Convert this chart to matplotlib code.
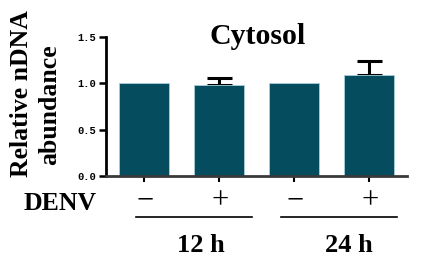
import matplotlib
matplotlib.use("Agg")
import matplotlib.pyplot as plt

categories = ["12h -", "12h +", "24h -", "24h +"]
values = [1.0, 0.985, 1.0, 1.09]
errors = [0.0, 0.07, 0.0, 0.15]
denv_signs = ["\u2212", "+", "\u2212", "+"]
time_labels = ["12 h", "24 h"]
yticks = [0.0, 0.5, 1.0, 1.5]
ytick_labels = ["0.0", "0.5", "1.0", "1.5"]

W, H = 423, 263
AX_B, AX_T = 175.7, 37.3
AX_H = AX_B - AX_T
fig = plt.figure(figsize=(W / 100, H / 100), dpi=100)
ax = fig.add_axes([106 / W, 1 - AX_B / H, (407 - 106) / W, AX_H / H])

serif = "Liberation Serif"
x = list(range(len(categories)))
ax.bar(x, values, width=0.667, color="#054c5e", edgecolor="#a8d0dc", linewidth=0.6, zorder=2)
for xi, v, e in zip(x, values, errors):
    if e > 0:
        ax.errorbar([xi], [v], yerr=[[0], [e]], fmt="none", ecolor="black",
                    elinewidth=2.2, capsize=9, capthick=2.2, zorder=1)

ax.set_xlim(-0.507, 3.507)
ax.set_ylim(0, 1.5)
ax.set_yticks(yticks)
ax.set_yticklabels(ytick_labels, fontfamily="Liberation Mono", fontweight="bold", fontsize=7.5)
ax.set_xticks(x)
ax.set_xticklabels([])
ax.tick_params(axis="y", length=5, width=1.8, pad=2)
ax.tick_params(axis="x", length=4, width=1.5)
for s in ["top", "right"]:
    ax.spines[s].set_visible(False)
ax.spines["left"].set_linewidth(2)
ax.spines["left"].set_color("black")
ax.spines["bottom"].set_linewidth(2)
ax.spines["bottom"].set_color("#3a3a3a")

fig.text(257.5 / W, 1 - 37 / H, "Cytosol", ha="center", va="center",
         fontfamily=serif, fontweight="bold", fontsize=21.5)

# y label as two lines
fig.text(21 / W, 1 - 94 / H, "Relative nDNA", rotation=90, ha="center", va="center",
         fontfamily=serif, fontweight="bold", fontsize=18.5)
fig.text(50 / W, 1 - 105 / H, "abundance", rotation=90, ha="center", va="center",
         fontfamily=serif, fontweight="bold", fontsize=18.5)

# group labels
fig.text(60 / W, 1 - 204 / H, "DENV", ha="center", va="center",
         fontfamily=serif, fontweight="bold", fontsize=18.5)
trans = ax.get_xaxis_transform()
sign_y = -(201 - AX_B) / AX_H
for xi, s in zip(x, denv_signs):
    ax.text(xi + 0.01, sign_y, s, transform=trans,
            ha="center", va="center", fontfamily=serif, fontsize=22, clip_on=False)

line_y = -(217.3 - AX_B) / AX_H
ax.plot([-0.107, 1.44], [line_y, line_y], transform=trans, color="black", lw=1.2, clip_on=False)
ax.plot([1.83, 3.38], [line_y, line_y], transform=trans, color="black", lw=1.2, clip_on=False)
lab_y = -(245.5 - AX_B) / AX_H
for cx, t in zip([0.76, 2.73], time_labels):
    ax.text(cx, lab_y, t, transform=trans, ha="center", va="center",
            fontfamily=serif, fontweight="bold", fontsize=19, clip_on=False)

fig.savefig("out.png", dpi=100)
